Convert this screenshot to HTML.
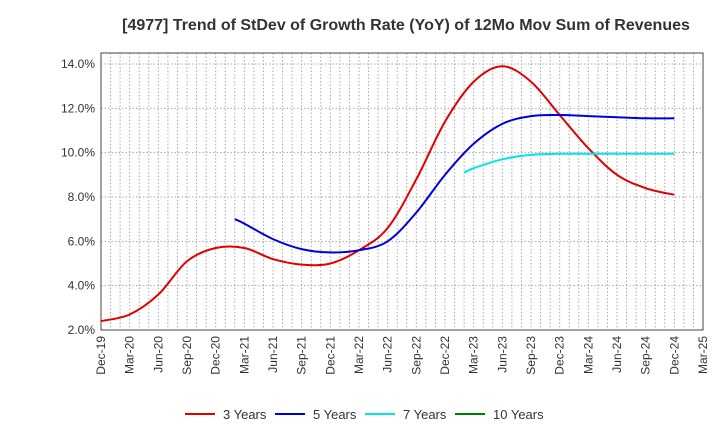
<!DOCTYPE html>
<html><head><meta charset="utf-8"><style>
body{margin:0;background:#fff;font-family:"Liberation Sans",sans-serif;}
svg text{font-family:"Liberation Sans",sans-serif;}
</style></head><body>
<svg id="c" width="720" height="440" xmlns="http://www.w3.org/2000/svg">
<text x="406" y="30" text-anchor="middle" font-size="16" font-weight="bold" fill="#333">[4977]  Trend of StDev of Growth Rate (YoY) of 12Mo Mov Sum of Revenues</text>
<g id="grid"></g><g id="axes"></g><g id="series"></g><g id="legend"></g>
</svg>
<script>
const xLabels=["Dec-19","Mar-20","Jun-20","Sep-20","Dec-20","Mar-21","Jun-21","Sep-21","Dec-21","Mar-22","Jun-22","Sep-22","Dec-22","Mar-23","Jun-23","Sep-23","Dec-23","Mar-24","Jun-24","Sep-24","Dec-24","Mar-25"];
const yTicks=[2,4,6,8,10,12,14];
const red3=[[0,2.4],[3,2.7],[6,3.6],[9,5.1],[12,5.7],[15,5.7],[18,5.2],[21,4.95],[24,5.0],[27,5.6],[30,6.6],[33,8.8],[36,11.4],[39,13.2],[42,13.9],[45,13.2],[48,11.7],[51,10.2],[54,9.0],[57,8.4],[60,8.1]];
const blue5=[[14,7.0],[15,6.8],[18,6.1],[21,5.65],[24,5.5],[27,5.6],[30,6.0],[33,7.3],[36,9.0],[39,10.4],[42,11.3],[45,11.65],[48,11.7],[51,11.65],[54,11.6],[57,11.55],[60,11.55]];
const cyan7=[[38,9.1],[39,9.3],[42,9.7],[45,9.9],[48,9.95],[51,9.95],[54,9.95],[57,9.95],[60,9.95]];
const green10=[];
const L=101,R=703,T=53,B=330;
const X=m=>L+m*(R-L)/63, Y=v=>B-(v-2)*(B-64)/12;
const NS="http://www.w3.org/2000/svg";
function mk(p,tag,at){const e=document.createElementNS(NS,tag);for(const k in at)e.setAttribute(k,at[k]);p.appendChild(e);return e;}
const grid=document.getElementById('grid'),axes=document.getElementById('axes'),ser=document.getElementById('series'),leg=document.getElementById('legend');
for(let m=1;m<63;m++){const g=mk(grid,'line',{x1:X(m),x2:X(m),y1:T,y2:B,stroke:'#aaa','stroke-dasharray':'1.5,2','stroke-width':1});

}
yTicks.forEach(v=>{const g=mk(grid,'line',{x1:L,x2:R,y1:Y(v),y2:Y(v),stroke:'#aaa','stroke-dasharray':'1.5,2'});


const t=mk(axes,'text',{x:L-6,y:Y(v)+4,'text-anchor':'end','font-size':12,fill:'#333'});t.textContent=v.toFixed(1)+'%';

});
xLabels.forEach((s,i)=>{const x=X(i*3);const t=mk(axes,'text',{x:x+4,y:B+6,'text-anchor':'end','font-size':12,fill:'#333',transform:`rotate(-90 ${x+4} ${B+6})`});t.textContent=s;

});
const fr=mk(axes,'rect',{x:L,y:T,width:R-L,height:B-T,fill:'none',stroke:'#444','stroke-width':1});


function path(d){const p=d.map(a=>[X(a[0]),Y(a[1])]);if(p.length<2)return '';let s=`M${p[0][0]},${p[0][1]}`;
for(let i=0;i<p.length-1;i++){const p0=p[i-1]||p[i],p1=p[i],p2=p[i+1],p3=p[i+2]||p2;
s+=` C${p1[0]+(p2[0]-p0[0])/6},${p1[1]+(p2[1]-p0[1])/6} ${p2[0]-(p3[0]-p1[0])/6},${p2[1]-(p3[1]-p1[1])/6} ${p2[0]},${p2[1]}`;}return s;}
const series=[[red3,'#e00000','3 Years','series-3-years'],[blue5,'#0000dd','5 Years','series-5-years'],[cyan7,'#00e5ee','7 Years','series-7-years'],[green10,'#008000','10 Years','series-10-years']];
const lx=[185,275,365,455];
series.forEach((s,i)=>{if(s[0].length>1){const p=mk(ser,'path',{d:path(s[0]),fill:'none',stroke:s[1],'stroke-width':2});

}
const g=mk(leg,'g',{});


mk(g,'line',{x1:lx[i],x2:lx[i]+30,y1:414,y2:414,stroke:s[1],'stroke-width':2});
const t=mk(g,'text',{x:lx[i]+38,y:419,'font-size':13,fill:'#333'});t.textContent=s[2];});
</script>
</body></html>
